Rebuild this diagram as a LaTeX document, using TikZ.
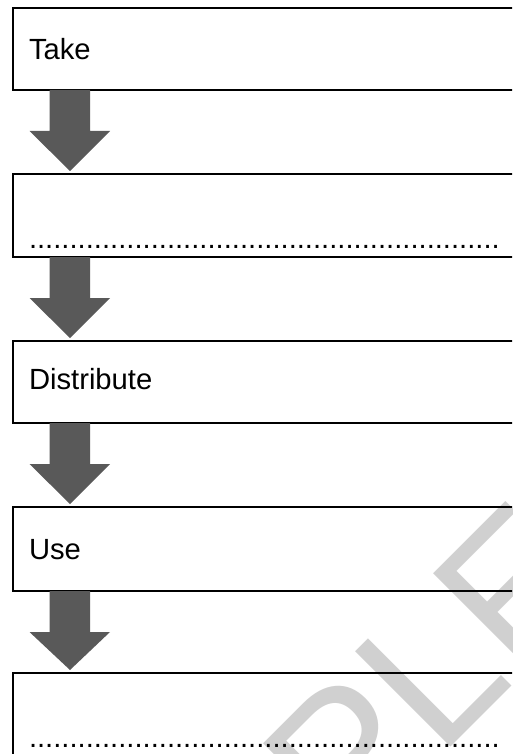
\documentclass[tikz,border=0pt]{standalone}
\usepackage{fontspec}
\setmainfont{Liberation Sans}
\usetikzlibrary{calc}
\definecolor{arrowgray}{HTML}{595959}
\definecolor{markgray}{HTML}{D0D0D0}
\tikzset{
  stepbox/.style={draw=black, line width=2pt, rectangle, inner sep=0pt, outer sep=0pt,
    minimum width=507pt, anchor=north west},
  boxtext/.style={anchor=base west, inner sep=0pt, outer sep=0pt,
    font=\fontsize{29.2}{31}\selectfont},
  blockarrow/.style={fill=arrowgray},
  watermark/.style={rotate=45, anchor=base east, inner sep=0pt, outer sep=0pt,
    text=markgray, font=\fontsize{196}{196}\selectfont}
}
\begin{document}
\begin{tikzpicture}[x=1pt,y=-1pt]
\useasboundingbox (0,0) rectangle (512,754);
\begin{scope}
\clip (0,0) rectangle (512,754);
\fill[white] (0,0) rectangle (512,754);
\node[watermark] (wm) at (609.5,588.5) {SAMPLE};
\node[stepbox, minimum height=82pt] (b1) at (13,8) {};
\node[stepbox, minimum height=83pt] (b2) at (13,174) {};
\node[stepbox, minimum height=82pt] (b3) at (13,341) {};
\node[stepbox, minimum height=84pt] (b4) at (13,507) {};
\node[stepbox, minimum height=130pt] (b5) at (13,673) {};
\foreach \a/\b in {b1/b2,b2/b3,b3/b4,b4/b5}{
  \fill[blockarrow] let \p1=(\a.south west), \p2=(\b.north west) in
    (\x1+36.5pt,\y1) -- (\x1+77pt,\y1) -- (\x1+77pt,\y1-41pt) -- (\x1+97pt,\y1-41pt)
    -- (\x1+57pt,\y2+3pt) -- (\x1+16.5pt,\y1-41pt) -- (\x1+36.5pt,\y1-41pt) -- cycle;
}
\node[boxtext] (t1) at (29,59.3) {Take};
\node[boxtext] (t2) at (29,248.3) {..........................................................};
\node[boxtext] (t3) at (29,389.3) {Distribute};
\node[boxtext] (t4) at (29,559.3) {Use};
\node[boxtext] (t5) at (29,747.3) {..........................................................};
\end{scope}
\end{tikzpicture}
\end{document}
